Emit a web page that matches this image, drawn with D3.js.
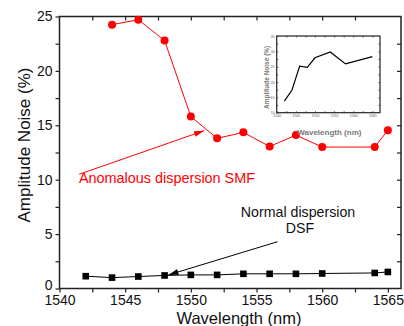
<!DOCTYPE html>
<html>
<head>
<meta charset="utf-8">
<script src="https://cdn.jsdelivr.net/npm/d3@7"></script>
<style>
  body { margin: 0; background: #fff; }
  svg text { font-family: "Liberation Sans", Arial, sans-serif; }
</style>
</head>
<body>
<div id="chart"></div>
<script>
const width = 404;
const height = 326;

// main chart data
const wavelengths = [1542, 1544, 1546, 1548, 1550, 1552, 1554, 1556, 1558, 1560, 1564, 1565];
const smfWavelengths = [1544, 1546, 1548, 1550, 1552, 1554, 1556, 1558, 1560, 1564, 1565];
const smfNoise = [24.25, 24.7, 22.8, 15.8, 13.8, 14.35, 13.05, 14.1, 13.0, 13.0, 14.55];
const dsfNoise = [1.13, 1.0, 1.1, 1.2, 1.25, 1.25, 1.35, 1.35, 1.35, 1.38, 1.43, 1.52];
const xTicks = [1540, 1545, 1550, 1555, 1560, 1565];
const yTicks = [0, 5, 10, 15, 20, 25];

// inset data
const insetWavelengths = [1542, 1544, 1546, 1548, 1550, 1554, 1556, 1558, 1565];
const insetNoise = [13.8, 17.4, 25.2, 24.8, 27.9, 29.8, 27.8, 25.9, 28.3];
const insetXTicks = [1540, 1545, 1550, 1555, 1560, 1565];
const insetYTicks = [10, 15, 20, 25, 30, 35];

const pL = 59.5, pR = 401, pT = 16.5, pB = 288.5;

const svg = d3.select("#chart")
    .append("svg")
    .attr("width", width)
    .attr("height", height);

const x = d3.scaleLinear().domain([1540, 1566]).range([pL, pR]);
const y = d3.scaleLinear().domain([0, 25]).range([pB, pT]);

const defs = svg.append("defs");
[["redHead", "#ff0000"], ["blackHead", "#000"]].forEach(([id, color]) => {
    defs.append("marker")
        .attr("id", id)
        .attr("viewBox", "0 0 10 6")
        .attr("refX", 10)
        .attr("refY", 3)
        .attr("markerWidth", 10)
        .attr("markerHeight", 6)
        .attr("markerUnits", "userSpaceOnUse")
        .attr("orient", "auto")
        .append("path")
        .attr("d", "M0,0 L10,3 L0,6 Z")
        .attr("fill", color);
});

// axes: bottom/left ticks outward, top/right inward
const axisColor = "#222";
const xMinor = d3.range(1540, 1566.1, 2.5);
const yMinor = d3.range(0, 25.1, 2.5);

const bottomAxis = svg.append("g")
    .attr("transform", `translate(0,${pB})`)
    .call(d3.axisBottom(x).tickValues(xMinor).tickSize(4).tickFormat(""));
const bottomLabels = svg.append("g")
    .attr("transform", `translate(0,${pB})`)
    .call(d3.axisBottom(x).tickValues(xTicks).tickSize(0).tickPadding(7).tickFormat(d3.format("d")));
const leftAxis = svg.append("g")
    .attr("transform", `translate(${pL},0)`)
    .call(d3.axisLeft(y).tickValues(yMinor).tickSize(4).tickFormat(""));
const leftLabels = svg.append("g")
    .attr("transform", `translate(${pL},0)`)
    .call(d3.axisLeft(y).tickValues(yTicks).tickSize(0).tickPadding(7));
const topAxis = svg.append("g")
    .attr("transform", `translate(0,${pT})`)
    .call(d3.axisBottom(x).tickValues(xMinor.slice(1, -1)).tickSize(4).tickFormat(""));
const rightAxis = svg.append("g")
    .attr("transform", `translate(${pR},0)`)
    .call(d3.axisLeft(y).tickValues(yMinor.slice(1, -1)).tickSize(4).tickFormat(""));

[bottomAxis, leftAxis, topAxis, rightAxis, bottomLabels, leftLabels].forEach(g => {
    g.select(".domain").remove();
    g.selectAll("line").attr("stroke", axisColor).attr("stroke-width", 1.2);
    g.selectAll("text").attr("font-size", 14).attr("fill", "#111")
        .style("font-family", "'Liberation Sans', Arial, sans-serif");
});
// keep the "0" label clear of "1540"
leftLabels.selectAll("text").filter(d => d === 0).attr("dy", "0.05em");

svg.append("rect")
    .attr("x", pL).attr("y", pT)
    .attr("width", pR - pL).attr("height", pB - pT)
    .attr("fill", "none").attr("stroke", axisColor).attr("stroke-width", 1.5);

svg.append("text")
    .attr("x", 239)
    .attr("y", 323.5)
    .attr("text-anchor", "middle")
    .attr("font-size", 16.5)
    .attr("fill", "#111")
    .text("Wavelength (nm)");

svg.append("text")
    .attr("transform", "translate(30,145) rotate(-90)")
    .attr("text-anchor", "middle")
    .attr("font-size", 17)
    .attr("fill", "#111")
    .text("Amplitude Noise (%)");

// series
const line = d3.line().x(d => x(d[0])).y(d => y(d[1]));

const smf = smfWavelengths.map((w, i) => [w, smfNoise[i]]);
const dsf = wavelengths.map((w, i) => [w, dsfNoise[i]]);

svg.append("path").datum(dsf)
    .attr("d", line).attr("fill", "none").attr("stroke", "#000").attr("stroke-width", 1);
svg.selectAll(".sq").data(dsf).enter().append("rect")
    .attr("class", "sq")
    .attr("x", d => x(d[0]) - 3.3).attr("y", d => y(d[1]) - 3.3)
    .attr("width", 6.6).attr("height", 6.6)
    .attr("fill", "#000");

svg.append("path").datum(smf)
    .attr("d", line).attr("fill", "none").attr("stroke", "#ff0000").attr("stroke-width", 1);
svg.selectAll(".dot").data(smf).enter().append("circle")
    .attr("class", "dot")
    .attr("cx", d => x(d[0])).attr("cy", d => y(d[1]))
    .attr("r", 4)
    .attr("fill", "#ff0000");

// annotations
svg.append("line")
    .attr("x1", x(1541.5)).attr("y1", y(10.5))
    .attr("x2", x(1551.0)).attr("y2", y(14.5))
    .attr("stroke", "#ff0000").attr("stroke-width", 1)
    .attr("marker-end", "url(#redHead)");
svg.append("text")
    .attr("x", 79).attr("y", 183)
    .attr("font-size", 14.4)
    .attr("fill", "#ff0000")
    .text("Anomalous dispersion SMF");

svg.append("line")
    .attr("x1", x(1556.6)).attr("y1", y(4.3))
    .attr("x2", x(1548.3)).attr("y2", y(1.25))
    .attr("stroke", "#000").attr("stroke-width", 1)
    .attr("marker-end", "url(#blackHead)");
svg.append("text")
    .attr("x", 298).attr("y", 217)
    .attr("text-anchor", "middle")
    .attr("font-size", 14.2)
    .attr("fill", "#111")
    .text("Normal dispersion");
svg.append("text")
    .attr("x", 300).attr("y", 233)
    .attr("text-anchor", "middle")
    .attr("font-size", 14.2)
    .attr("fill", "#111")
    .text("DSF");

// inset
const iL = 276.7, iR = 380, iT = 36, iB = 112.7;
const ix = d3.scaleLinear().domain([1540, 1567]).range([iL, iR]);
const iy = d3.scaleLinear().domain([10, 35]).range([iB, iT]);
const inset = svg.append("g");

const ixAxis = inset.append("g")
    .attr("transform", `translate(0,${iB})`)
    .call(d3.axisTop(ix).tickValues(d3.range(1540, 1566, 2.5)).tickSize(1.5).tickFormat(""));
const ixLabels = inset.append("g")
    .attr("transform", `translate(0,${iB})`)
    .call(d3.axisBottom(ix).tickValues(insetXTicks).tickSize(0).tickPadding(2).tickFormat(d3.format("d")));
const iyAxis = inset.append("g")
    .attr("transform", `translate(${iL},0)`)
    .call(d3.axisRight(iy).tickValues(d3.range(10, 35.1, 2.5)).tickSize(1.5).tickFormat(""));
const iyLabels = inset.append("g")
    .attr("transform", `translate(${iL},0)`)
    .call(d3.axisLeft(iy).tickValues(insetYTicks).tickSize(0).tickPadding(2));
const iyRight = inset.append("g")
    .attr("transform", `translate(${iR},0)`)
    .call(d3.axisLeft(iy).tickValues(d3.range(12.5, 35, 2.5)).tickSize(1.5).tickFormat(""));
const ixTop = inset.append("g")
    .attr("transform", `translate(0,${iT})`)
    .call(d3.axisBottom(ix).tickValues(d3.range(1542.5, 1566, 2.5)).tickSize(1.5).tickFormat(""));

[ixAxis, ixLabels, iyAxis, iyLabels, iyRight, ixTop].forEach(g => {
    g.select(".domain").remove();
    g.selectAll("line").attr("stroke", "#333").attr("stroke-width", 0.8);
    g.selectAll("text").attr("font-size", 3.5).attr("fill", "#555")
        .style("font-family", "'Liberation Sans', Arial, sans-serif");
});

inset.append("rect")
    .attr("x", iL).attr("y", iT)
    .attr("width", iR - iL).attr("height", iB - iT)
    .attr("fill", "none").attr("stroke", "#222").attr("stroke-width", 1.2);

inset.append("path")
    .datum(insetWavelengths.map((w, i) => [w, insetNoise[i]]))
    .attr("d", d3.line().x(d => ix(d[0])).y(d => iy(d[1])))
    .attr("fill", "none").attr("stroke", "#000").attr("stroke-width", 1.2);

inset.append("text")
    .attr("x", (iL + iR) / 2 + 1).attr("y", 135)
    .attr("text-anchor", "middle")
    .attr("font-size", 8).attr("font-weight", "bold")
    .attr("fill", "#777")
    .text("Wavelength (nm)");

inset.append("text")
    .attr("transform", `translate(269,${(iT + iB) / 2 + 3}) rotate(-90)`)
    .attr("text-anchor", "middle")
    .attr("font-size", 6.5).attr("font-weight", "bold")
    .attr("fill", "#777")
    .text("Amplitude Noise (%)");
</script>
</body>
</html>
